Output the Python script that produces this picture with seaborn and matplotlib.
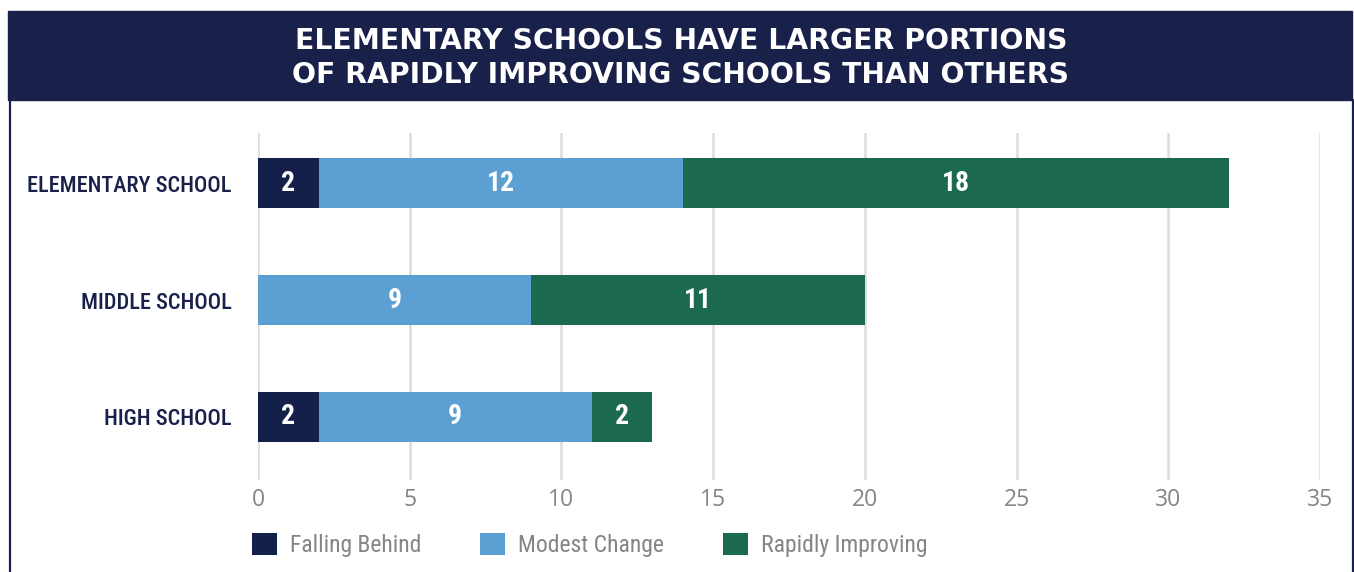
import matplotlib
matplotlib.use("Agg")
import matplotlib.pyplot as plt
import seaborn as sns
import pandas as pd
import numpy as np
from matplotlib import font_manager
from matplotlib.patches import Patch, Rectangle
from matplotlib.lines import Line2D

# ---- data ----
categories = ["ELEMENTARY SCHOOL", "MIDDLE SCHOOL", "HIGH SCHOOL"]
series_names = ["Falling Behind", "Modest Change", "Rapidly Improving"]
falling_behind = [2, 0, 2]
modest_change = [12, 9, 9]
rapidly_improving = [18, 11, 2]
x_ticks = [0, 5, 10, 15, 20, 25, 30, 35]
title_text = "ELEMENTARY SCHOOLS HAVE LARGER PORTIONS\nOF RAPIDLY IMPROVING SCHOOLS THAN OTHERS"

NAVY = "#19204a"
C_FALL = "#141f4a"
C_MOD = "#5c9fd3"
C_RAP = "#1b6a50"
GRID = "#dcdcdc"
GRAY = "#858585"

avail = {f.name for f in font_manager.fontManager.ttflist}
def pick(*names):
    for n in names:
        if n in avail:
            return n
    return "DejaVu Sans"
NARROW = pick("Roboto Condensed", "Liberation Sans Narrow", "Open Sans Condensed", "Liberation Sans")
TICKF = pick("Open Sans", "Noto Sans", "DejaVu Sans")
TITLEF = pick("DejaVu Sans")

sns.set_theme(style="white")
plt.rcParams["font.family"] = [NARROW, "DejaVu Sans"]

df = pd.DataFrame({
    "category": categories,
    "fall": falling_behind,
    "mod": modest_change,
    "rap": rapidly_improving,
})
df["c1"] = df["fall"]
df["c2"] = df["fall"] + df["mod"]
df["c3"] = df["c2"] + df["rap"]

fig = plt.figure(figsize=(13.54, 5.72), dpi=100)
ax = fig.add_axes([258/1354, 1-480/572, (1320-258)/1354, (480-133)/572])

for col, color in [("c3", C_RAP), ("c2", C_MOD), ("c1", C_FALL)]:
    sns.barplot(data=df, x=col, y="category", order=categories, color=color,
                saturation=1, width=0.43, ax=ax, linewidth=0, errorbar=None)

ax.set_xlim(0, 35)
ax.set_ylim(2.54, -0.43)
ax.set_xticks(x_ticks)
ax.set_xticklabels([str(t) for t in x_ticks], fontsize=16.5, color=GRAY, family=TICKF)
ax.set_yticks(range(len(categories)))
ax.set_yticklabels(categories, fontsize=16, color=NAVY, fontweight="medium",
                   family=[NARROW, "DejaVu Sans"])
ax.set_xlabel("")
ax.set_ylabel("")
ax.tick_params(axis="x", length=0, pad=6)
ax.tick_params(axis="y", length=0, pad=19)
ax.grid(axis="x", color=GRID, linewidth=1.8)
ax.set_axisbelow(True)
for s in ax.spines.values():
    s.set_visible(False)

# segment labels
for i in range(len(categories)):
    left = 0
    for v in (falling_behind[i], modest_change[i], rapidly_improving[i]):
        if v > 0:
            ax.text(left + v/2, i, str(v), ha="center", va="center", color="white",
                    fontsize=20, fontweight="semibold", family=[NARROW, "DejaVu Sans"])
        left += v

# banner & borders
fig.patches.append(Rectangle((8/1354, 1-100/572), (1352-8)/1354, 89/572,
                             transform=fig.transFigure, color=NAVY, zorder=0))
fig.lines.append(Line2D([9.5/1354, 9.5/1354], [0, 1-100/572], transform=fig.transFigure,
                        color=NAVY, linewidth=1.6))
fig.lines.append(Line2D([1352.5/1354, 1352.5/1354], [0, 1-100/572], transform=fig.transFigure,
                        color=NAVY, linewidth=1.6))
fig.text(681/1354, 1-58/572, title_text, ha="center", va="center", color="white",
         fontsize=20.3, fontweight="bold", family=TITLEF, linespacing=1.3)

# legend
handles = [Patch(facecolor=c, edgecolor="none") for c in (C_FALL, C_MOD, C_RAP)]
leg = fig.legend(handles, series_names, loc="center left",
                 bbox_to_anchor=(252/1354, 1-545/572), ncol=3, frameon=False,
                 fontsize=17, handlelength=1.06, handleheight=1.06, handletextpad=0.55,
                 columnspacing=2.5, borderpad=0, borderaxespad=0)
for t in leg.get_texts():
    t.set_color(GRAY)

fig.savefig("out.png", dpi=100, facecolor="white")
